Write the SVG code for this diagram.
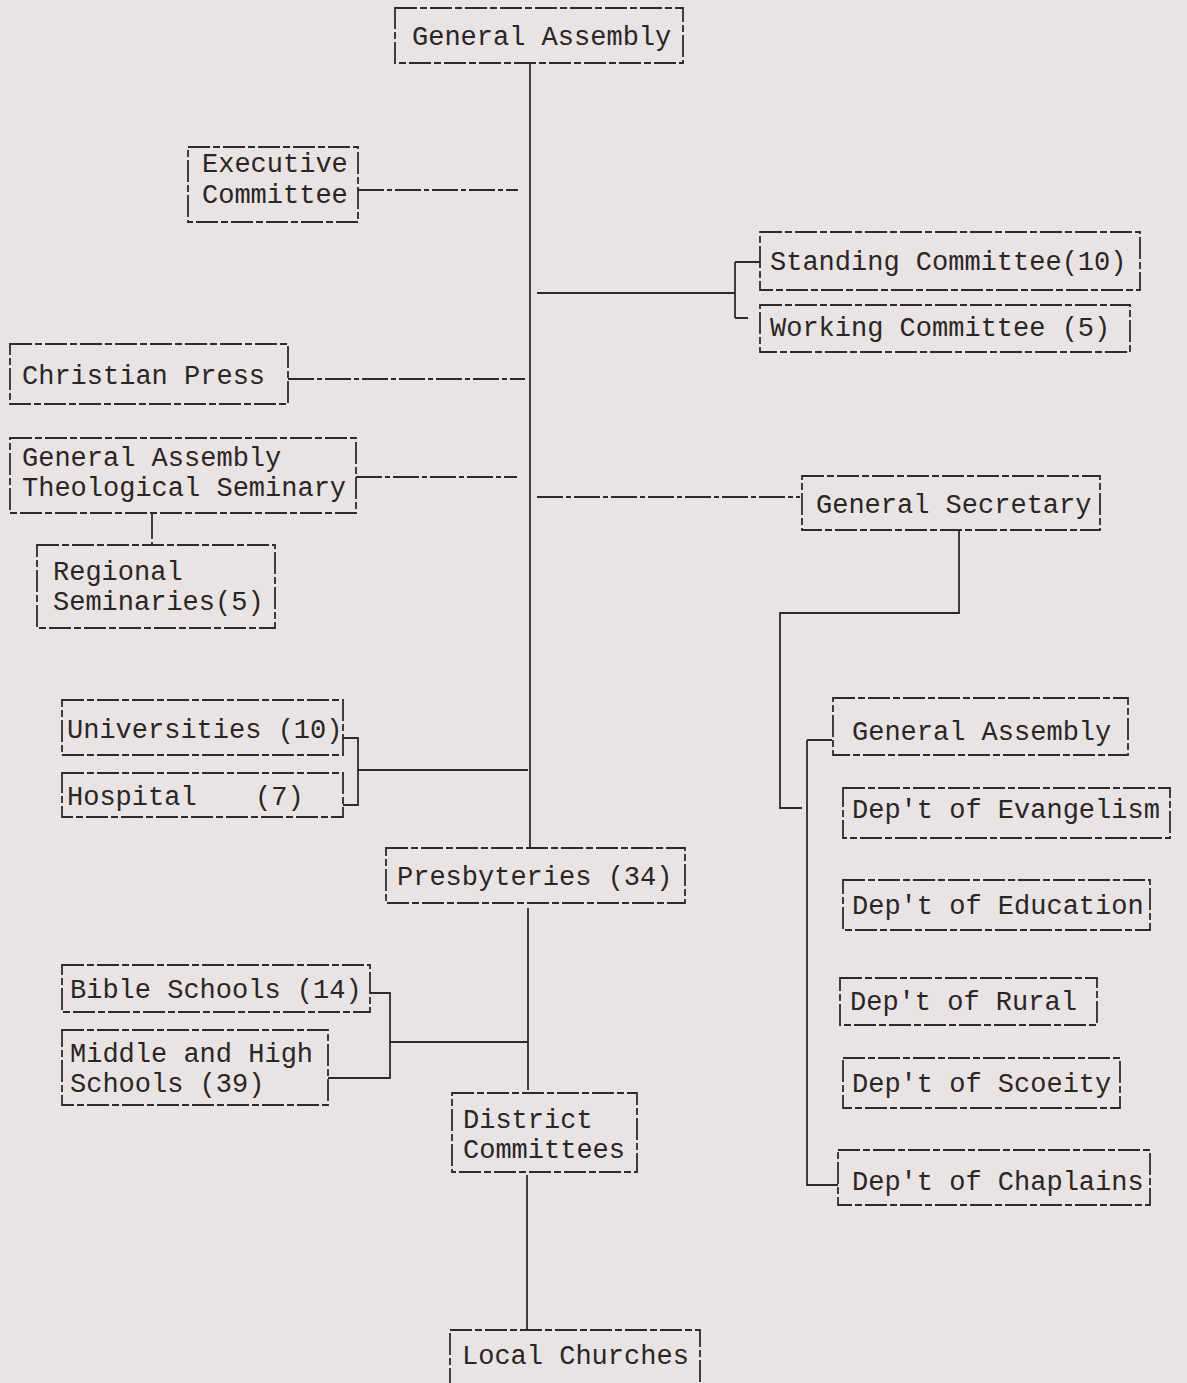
<svg xmlns="http://www.w3.org/2000/svg" width="1187" height="1383" viewBox="0 0 1187 1383">
<style>
.bx{fill:none;stroke:#2e2a2a;stroke-width:1.8;stroke-dasharray:22 3 7 3}
.t{font-family:"Liberation Mono","DejaVu Sans Mono",monospace;font-size:27px;fill:#2a2626}
.c{fill:none;stroke:#2e2a2a;stroke-width:1.8}
.cd{fill:none;stroke:#2e2a2a;stroke-width:1.8;stroke-dasharray:26 3 5 3}
</style>
<rect x="0" y="0" width="1187" height="1383" fill="#e9e3e3"/>
<g id="connectors">
<path class="c" d="M530 63V848"/>
<path class="cd" d="M358 190H518"/>
<path class="c" d="M537 293H735M735 262V318M735 262H760M735 318H748"/>
<path class="cd" d="M288 379H525"/>
<path class="cd" d="M356 477H517"/>
<path class="cd" d="M152 513V545"/>
<path class="cd" d="M537 497H800"/>
<path class="c" d="M959 530V613H780V808H802"/>
<path class="c" d="M807 740V1185H838M807 740H832"/>
<path class="c" d="M343 738H358V805H343M358 770H528"/>
<path class="c" d="M528 908V1090"/>
<path class="c" d="M370 993H390V1078H328M390 1042H528"/>
<path class="c" d="M527 1175V1330"/>
</g>
<g id="general-assembly"><rect class="bx" x="395" y="8" width="288" height="55"/><text class="t" x="412" y="45">General Assembly</text></g>
<g id="executive-committee"><rect class="bx" x="188" y="147" width="170" height="75"/><text class="t" x="202" y="172">Executive</text><text class="t" x="202" y="203">Committee</text></g>
<g id="standing-committee"><rect class="bx" x="760" y="232" width="380" height="58"/><text class="t" x="770" y="270">Standing Committee(10)</text></g>
<g id="working-committee"><rect class="bx" x="760" y="305" width="370" height="47"/><text class="t" x="770" y="336">Working Committee (5)</text></g>
<g id="christian-press"><rect class="bx" x="10" y="344" width="278" height="60"/><text class="t" x="22" y="384">Christian Press</text></g>
<g id="ga-seminary"><rect class="bx" x="10" y="438" width="346" height="75"/><text class="t" x="22" y="466">General Assembly</text><text class="t" x="22" y="496">Theological Seminary</text></g>
<g id="regional-seminaries"><rect class="bx" x="37" y="545" width="238" height="83"/><text class="t" x="53" y="580">Regional</text><text class="t" x="53" y="610">Seminaries(5)</text></g>
<g id="general-secretary"><rect class="bx" x="802" y="476" width="298" height="54"/><text class="t" x="816" y="513">General Secretary</text></g>
<g id="ga-department"><rect class="bx" x="833" y="698" width="295" height="57"/><text class="t" x="852" y="740">General Assembly</text></g>
<g id="dept-evangelism"><rect class="bx" x="843" y="788" width="327" height="50"/><text class="t" x="852" y="818">Dep't of Evangelism</text></g>
<g id="dept-education"><rect class="bx" x="843" y="880" width="307" height="50"/><text class="t" x="852" y="914">Dep't of Education</text></g>
<g id="dept-rural"><rect class="bx" x="840" y="978" width="257" height="47"/><text class="t" x="850" y="1010">Dep't of Rural</text></g>
<g id="dept-society"><rect class="bx" x="843" y="1058" width="277" height="50"/><text class="t" x="852" y="1092">Dep't of Scoeity</text></g>
<g id="dept-chaplains"><rect class="bx" x="838" y="1150" width="312" height="55"/><text class="t" x="852" y="1190">Dep't of Chaplains</text></g>
<g id="universities"><rect class="bx" x="62" y="700" width="281" height="55"/><text class="t" x="67" y="738">Universities (10)</text></g>
<g id="hospital"><rect class="bx" x="62" y="773" width="281" height="44"/><text class="t" x="67" y="805">Hospital<tspan x="255">(7)</tspan></text></g>
<g id="presbyteries"><rect class="bx" x="386" y="848" width="299" height="55"/><text class="t" x="397" y="885">Presbyteries (34)</text></g>
<g id="bible-schools"><rect class="bx" x="62" y="965" width="308" height="47"/><text class="t" x="70" y="998">Bible Schools (14)</text></g>
<g id="middle-high-schools"><rect class="bx" x="62" y="1030" width="266" height="75"/><text class="t" x="70" y="1062">Middle and High</text><text class="t" x="70" y="1092">Schools (39)</text></g>
<g id="district-committees"><rect class="bx" x="452" y="1093" width="185" height="79"/><text class="t" x="463" y="1128">District</text><text class="t" x="463" y="1158">Committees</text></g>
<g id="local-churches"><rect class="bx" x="450" y="1330" width="250" height="60"/><text class="t" x="462" y="1364">Local Churches</text></g>
</svg>
